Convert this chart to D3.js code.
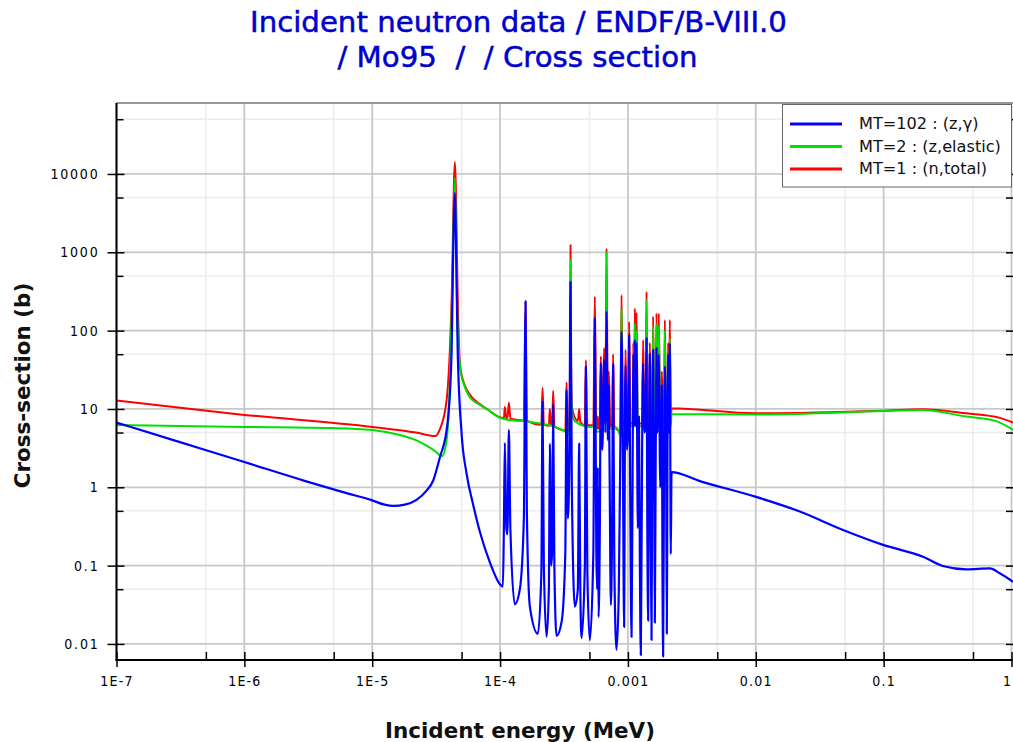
<!DOCTYPE html>
<html><head><meta charset="utf-8">
<script src="https://cdn.jsdelivr.net/npm/d3@7"></script>
<style>body{margin:0;background:#fff} svg{display:block}</style>
</head><body>
<svg id="c" width="1013" height="742"></svg>
<script>
// ---------------- data ----------------
const titleLines = ["Incident neutron data / ENDF/B-VIII.0", "/ Mo95  /  / Cross section"];
const xAxisLabel = "Incident energy (MeV)";
const yAxisLabel = "Cross-section (b)";
const xTickValues = [1e-7, 1e-6, 1e-5, 1e-4, 1e-3, 1e-2, 1e-1, 1];
const xTickLabels = ["1E-7", "1E-6", "1E-5", "1E-4", "0.001", "0.01", "0.1", "1"];
const xMinorTicks = [5e-7, 5e-6, 5e-5, 5e-4, 5e-3, 5e-2, 5e-1];
const yTickValues = [0.01, 0.1, 1, 10, 100, 1000, 10000];
const yTickLabels = ["0.01", "0.1", "1", "10", "100", "1000", "10000"];
const yMinorTicks = [0.05, 0.5, 5, 50, 500, 5000, 50000];
const seriesNames = ["MT=102 : (z,\u03b3)", "MT=2 : (z,elastic)", "MT=1 : (n,total)"];

// [energy (MeV), cross section (b)]
const captureXS = [
[1e-7,6.7],[3e-7,3.85],[1e-6,2.1],[3e-6,1.2],[6e-6,0.86],[1e-5,0.68],[1.25e-5,0.6],[1.46e-5,0.578],[1.8e-5,0.6],[2.22e-5,0.69],
[2.65e-5,0.9],[3.0e-5,1.22],[3.38e-5,2.4],
[3.82e-5,5.4],[3.93e-5,8],[4.18e-5,57],[4.30e-5,1070],[4.43e-5,5700],[4.57e-5,410],[4.66e-5,57],[5.0e-5,4.9],
[5.47e-5,1.5],[6.16e-5,0.6],[6.95e-5,0.27],[8.32e-5,0.11],[9.96e-5,0.058],
[1.052e-4,0.054],[1.071e-4,0.3],[1.09e-4,3.7],[1.12e-4,0.3],[1.141e-4,0.25],[1.172e-4,5.4],[1.204e-4,0.3],
[1.305e-4,0.032],[1.428e-4,0.05],[1.535e-4,0.4],[1.583e-4,234],[1.62e-4,0.5],[1.71e-4,0.03],[1.975e-4,0.0135],
[2.103e-4,0.08],[2.149e-4,12.4],[2.2e-4,0.1],[2.31e-4,0.0123],[2.408e-4,0.05],[2.451e-4,3.6],[2.509e-4,0.1],
[2.555e-4,0.15],[2.601e-4,11.3],[2.658e-4,0.1],[2.766e-4,0.0127],[3.041e-4,0.02],[3.239e-4,0.15],[3.31e-4,17.5],
[3.388e-4,0.4],[3.481e-4,2.0],[3.557e-4,421],[3.642e-4,1.0],[3.844e-4,0.03],[4.057e-4,0.05],[4.154e-4,3.6],
[4.243e-4,0.05],[4.336e-4,0.0119],[4.603e-4,0.1],[4.687e-4,34.7],[4.816e-4,0.08],[5.037e-4,0.0112],[5.364e-4,0.15],
[5.51e-4,144],[5.66e-4,0.15],[5.743e-4,0.05],[5.816e-4,1.8],[5.889e-4,0.022],[6.029e-4,0.3],[6.138e-4,38.5],
[6.22e-4,5],[6.305e-4,3],[6.513e-4,42],[6.655e-4,5],[6.801e-4,175],[6.961e-4,4],[7.089e-4,20],[7.282e-4,0.1],
[7.348e-4,0.0315],[7.522e-4,0.3],[7.659e-4,37],[7.827e-4,0.1],[8.143e-4,0.0084],[8.488e-4,0.05],[8.719e-4,3],
[8.913e-4,97],[9.123e-4,3],[9.34e-4,0.0165],[9.459e-4,3],[9.577e-4,36],[9.804e-4,3],[1.0037e-3,5],
[1.022e-3,88],[1.044e-3,0.5],[1.067e-3,0.0123],[1.09e-3,3],[1.102e-3,50],[1.118e-3,6],[1.132e-3,76],
[1.149e-3,6],[1.167e-3,70],[1.195e-3,0.3],[1.22e-3,8],[1.24e-3,0.1],[1.261e-3,0.0072],[1.291e-3,3],[1.315e-3,38],[1.343e-3,5],
[1.373e-3,6],[1.398e-3,80],[1.418e-3,0.3],[1.439e-3,0.0199],[1.462e-3,3],[1.483e-3,50],[1.51e-3,0.3],
[1.529e-3,0.0112],[1.551e-3,3],[1.574e-3,57],[1.59e-3,6],[1.608e-3,1],[1.623e-3,0.0187],[1.65e-3,3],[1.673e-3,60],
[1.69e-3,6],[1.707e-3,5],[1.744e-3,50],[1.77e-3,5],[1.786e-3,1],[1.82e-3,4],[1.841e-3,20],[1.862e-3,0.1],[1.885e-3,0.0069],[1.919e-3,3],
[1.943e-3,35],[1.989e-3,3],[2.014e-3,0.0135],[2.04e-3,3],[2.062e-3,50],[2.095e-3,5],[2.126e-3,69],
[2.164e-3,0.14],[2.192e-3,1.56],
[3.65e-3,1.2],[9.9e-3,0.76],[0.0221,0.49],[0.0482,0.285],[0.099,0.184],[0.203,0.13],[0.291,0.099],
[0.444,0.0897],[0.676,0.092],[0.81,0.08],[1.03,0.062]
];

const elasticXS = [
[1e-7,6.25],[1e-6,5.9],[5e-6,5.7],[1e-5,5.4],[1.65e-5,4.65],[2.2e-5,4.0],[2.66e-5,3.4],[3.1e-5,2.9],[3.52e-5,2.5],[3.82e-5,4.0],[4.05e-5,21.5],
[4.24e-5,410],[4.43e-5,8900],[4.63e-5,150],[4.86e-5,35],[5.3e-5,19],[5.83e-5,14],[6.8e-5,11.5],[7.87e-5,10],[1.0e-4,7.7],
[1.09e-4,7.4],[1.54e-4,7.0],[1.583e-4,12],[1.62e-4,7.0],[1.838e-4,6.7],[2.766e-4,5.8],[3.31e-4,5.0],
[3.481e-4,4.65],[3.535e-4,40],[3.557e-4,798],[3.58e-4,40],[3.642e-4,9.5],[3.844e-4,7],[5.037e-4,5.9],
[5.46e-4,6],[5.51e-4,128],[5.56e-4,6],[5.743e-4,5.1],[6.138e-4,5.3],[6.75e-4,10],[6.801e-4,1000],[6.86e-4,12],
[6.961e-4,6],[7.659e-4,5.5],[8.143e-4,5.8],[8.719e-4,4.7],[8.87e-4,15],[8.913e-4,183],[8.96e-4,15],[9.123e-4,6],
[1.118e-3,6],[1.132e-3,125],[1.149e-3,8],[1.167e-3,100],[1.195e-3,6],[1.373e-3,6],[1.398e-3,246],[1.418e-3,6],
[1.551e-3,6],[1.574e-3,112],[1.608e-3,6],[1.65e-3,6],[1.673e-3,120],[1.707e-3,8],[1.744e-3,115],[1.786e-3,6],
[1.919e-3,6],[1.943e-3,100],[1.989e-3,6],[2.095e-3,6],[2.126e-3,80],[2.164e-3,6],[2.192e-3,8.6],
[9.9e-3,8.5],[0.099,9.4],[0.203,9.7],[0.444,8.0],[0.76,7.0],[1.03,5.4]
];

const totalXS = [
[1e-7,12.8],[1e-6,8.4],[1e-5,5.9],[2.2e-5,5.0],[3.09e-5,4.5],[3.38e-5,5.5],[3.82e-5,13],[4.18e-5,246],[4.43e-5,14200],
[4.7e-5,150],[4.86e-5,36],[5.3e-5,20],[5.83e-5,15],[6.8e-5,11.8],[7.87e-5,10],[1.0e-4,7.8],
[1.071e-4,7.6],[1.09e-4,10.6],[1.12e-4,7.6],[1.141e-4,7.6],[1.172e-4,12],[1.204e-4,7.5],[1.535e-4,7.1],
[1.583e-4,245],[1.62e-4,7.1],[2.103e-4,6.3],[2.149e-4,18.5],[2.2e-4,6.3],[2.408e-4,6.1],[2.451e-4,10],
[2.509e-4,6.1],[2.555e-4,6.1],[2.601e-4,17],[2.658e-4,6.0],[3.239e-4,5.3],[3.31e-4,22],[3.388e-4,5.2],
[3.481e-4,6],[3.535e-4,60],[3.557e-4,1240],[3.58e-4,60],[3.642e-4,10.5],[4.057e-4,7],[4.154e-4,10],
[4.243e-4,6.8],[4.603e-4,6.2],[4.687e-4,42],[4.816e-4,6.2],[5.364e-4,6.2],[5.51e-4,272],[5.66e-4,6],
[5.743e-4,5.6],[5.816e-4,8],[5.889e-4,5.6],[6.029e-4,5.8],[6.138e-4,47],[6.305e-4,6],[6.513e-4,60],
[6.655e-4,7],[6.801e-4,1120],[6.961e-4,7],[7.089e-4,30],[7.282e-4,6],[7.522e-4,6],[7.659e-4,50],[7.827e-4,6],
[8.719e-4,5.2],[8.913e-4,285],[9.123e-4,6.5],[9.459e-4,6.5],[9.577e-4,57],[9.804e-4,6.5],[1.0037e-3,6.5],
[1.022e-3,130],[1.044e-3,6.5],[1.09e-3,6.5],[1.102e-3,70],[1.118e-3,7],[1.132e-3,193],[1.149e-3,8],
[1.167e-3,170],[1.195e-3,6.5],[1.291e-3,6.5],[1.315e-3,76],[1.343e-3,7],[1.373e-3,7],[1.398e-3,314],
[1.418e-3,7],[1.462e-3,7],[1.483e-3,70],[1.51e-3,7],[1.551e-3,7],[1.574e-3,151],[1.608e-3,7],[1.65e-3,7],
[1.673e-3,166],[1.707e-3,8],[1.744e-3,166],[1.786e-3,7],[1.82e-3,7],[1.841e-3,30],[1.885e-3,6.5],[1.919e-3,7],
[1.943e-3,137],[1.989e-3,7],[2.04e-3,7],[2.062e-3,70],[2.095e-3,7],[2.126e-3,137],[2.164e-3,7],[2.192e-3,10.2],
[9.9e-3,8.8],[0.099,9.5],[0.203,9.9],[0.444,8.8],[0.81,7.7],[1.03,6.7]
];

const seriesData = [captureXS, elasticXS, totalXS];
const seriesColors = ["#0000ff", "#00e000", "#ff0000"];

// ---------------- layout ----------------
const svg = d3.select("#c");
const M = {left: 116.5, right: 1011.5, top: 103, bottom: 660, edge: 1013};
const x = d3.scaleLog().domain([1e-7, 1]).range([M.left, M.right]);
const y = d3.scaleLog().domain([Math.pow(10, -2.205), Math.pow(10, 4.906)]).range([M.bottom, M.top]);

svg.append("rect").attr("width", 1013).attr("height", 742).attr("fill", "#fff");

// grid
const grid = svg.append("g");
grid.selectAll(".gxm").data(xMinorTicks).enter().append("line")
  .attr("x1", d => x(d)).attr("x2", d => x(d)).attr("y1", M.top).attr("y2", M.bottom)
  .attr("stroke", "#ececec").attr("stroke-width", 1.5);
grid.selectAll(".gym").data(yMinorTicks).enter().append("line")
  .attr("y1", d => y(d)).attr("y2", d => y(d)).attr("x1", M.left).attr("x2", M.edge)
  .attr("stroke", "#ececec").attr("stroke-width", 1.5);
grid.selectAll(".gx").data(xTickValues).enter().append("line")
  .attr("x1", d => x(d)).attr("x2", d => x(d)).attr("y1", M.top).attr("y2", M.bottom)
  .attr("stroke", "#c8c8c8").attr("stroke-width", 1.8);
grid.selectAll(".gy").data(yTickValues).enter().append("line")
  .attr("y1", d => y(d)).attr("y2", d => y(d)).attr("x1", M.left).attr("x2", M.edge)
  .attr("stroke", "#c8c8c8").attr("stroke-width", 1.8);

// top border
svg.append("line").attr("x1", M.left).attr("x2", M.edge).attr("y1", M.top).attr("y2", M.top)
  .attr("stroke", "#999").attr("stroke-width", 2);

// series
svg.append("clipPath").attr("id", "clip").append("rect")
  .attr("x", M.left).attr("y", M.top).attr("width", M.edge - M.left).attr("height", M.bottom - M.top);
const line = d3.line().x(d => x(d[0])).y(d => y(d[1])).curve(d3.curveMonotoneX);
const sg = svg.append("g").attr("clip-path", "url(#clip)");
[2, 1, 0].forEach(i => {
  sg.append("path").datum(seriesData[i]).attr("d", line)
    .attr("fill", "none").attr("stroke", seriesColors[i]).attr("stroke-width", i === 0 ? 2.2 : 2)
    .attr("stroke-linejoin", "round");
});

// axes
const tickFont = "'DejaVu Sans Condensed', 'DejaVu Sans', sans-serif";
const xAx = svg.append("g").attr("transform", `translate(0,${M.bottom})`)
  .call(d3.axisBottom(x).tickValues(xTickValues).tickFormat((d, i) => xTickLabels[i]).tickSizeOuter(0).tickSize(7).tickPadding(9));
xAx.selectAll(".tick line").attr("y1", -8).attr("y2", 7).attr("stroke", "#000").attr("stroke-width", 1.5);
xAx.select(".domain").remove();
xAx.selectAll("text").attr("font-family", tickFont).attr("font-size", 14).attr("letter-spacing", 1.2).attr("fill", "#000");
xAx.selectAll(".tick text").filter((d, i) => i === xTickValues.length - 1)
  .attr("text-anchor", "end").attr("letter-spacing", 0).attr("dx", -1);
const xAxMin = svg.append("g").attr("transform", `translate(0,${M.bottom})`)
  .call(d3.axisBottom(x).tickValues(xMinorTicks).tickFormat("").tickSizeOuter(0).tickSize(-8));
xAxMin.select(".domain").remove();
xAxMin.selectAll(".tick line").attr("stroke", "#000").attr("stroke-width", 1.5);

const yAx = svg.append("g").attr("transform", `translate(${M.left},0)`)
  .call(d3.axisLeft(y).tickValues(yTickValues).tickFormat((d, i) => yTickLabels[i]).tickSizeOuter(0).tickSize(9).tickPadding(8));
yAx.selectAll(".tick line").attr("x1", -9).attr("x2", 8).attr("stroke", "#000").attr("stroke-width", 1.5);
yAx.select(".domain").remove();
yAx.selectAll("text").attr("font-family", tickFont).attr("font-size", 14).attr("letter-spacing", 1.8).attr("fill", "#000");
const yAxMin = svg.append("g").attr("transform", `translate(${M.left},0)`)
  .call(d3.axisLeft(y).tickValues(yMinorTicks.filter(v => y(v) > M.top)).tickFormat("").tickSizeOuter(0).tickSize(-7));
yAxMin.select(".domain").remove();
yAxMin.selectAll(".tick line").attr("stroke", "#000").attr("stroke-width", 1.5);

// right-side ticks
const yAxR = svg.append("g").attr("transform", `translate(${M.edge},0)`)
  .call(d3.axisRight(y).tickValues(yTickValues.concat(yMinorTicks.filter(v => y(v) > M.top))).tickFormat("").tickSizeOuter(0).tickSize(-7));
yAxR.select(".domain").remove();
yAxR.selectAll(".tick line").attr("stroke", "#000").attr("stroke-width", 1.5);

// axis lines
svg.append("line").attr("x1", M.left).attr("x2", M.left).attr("y1", M.top).attr("y2", M.bottom + 1)
  .attr("stroke", "#000").attr("stroke-width", 2);
svg.append("line").attr("x1", M.left - 1).attr("x2", M.edge).attr("y1", M.bottom).attr("y2", M.bottom)
  .attr("stroke", "#000").attr("stroke-width", 2);

// fit helper
function fitWidth(sel, target) {
  const fs = parseFloat(sel.attr("font-size"));
  const w = sel.node().getComputedTextLength();
  if (w > 0) sel.attr("font-size", (fs * target / w).toFixed(2));
}

// title
const tFont = "'DejaVu Sans', sans-serif";
const t1 = svg.append("text").attr("x", 518.5).attr("y", 32).attr("text-anchor", "middle")
  .attr("font-family", tFont).attr("font-size", 24).attr("fill", "#0000cc").attr("font-weight", "normal")
  .attr("stroke", "#0000cc").attr("stroke-width", 0.5)
  .style("white-space", "pre").text(titleLines[0]);
fitWidth(t1, 537);
const t2 = svg.append("text").attr("x", 517.5).attr("y", 67).attr("text-anchor", "middle")
  .attr("font-family", tFont).attr("font-size", t1.attr("font-size")).attr("fill", "#0000cc")
  .attr("stroke", "#0000cc").attr("stroke-width", 0.5)
  .style("white-space", "pre").text(titleLines[1]);

// axis labels
const xl = svg.append("text").attr("x", 520).attr("y", 738).attr("text-anchor", "middle")
  .attr("font-family", tFont).attr("font-weight", "bold").attr("font-size", 20).attr("fill", "#111").text(xAxisLabel);
fitWidth(xl, 270);
const yl = svg.append("text").attr("transform", `translate(30,${(M.top + M.bottom) / 2 + 4}) rotate(-90)`)
  .attr("text-anchor", "middle").attr("font-family", tFont).attr("font-weight", "bold")
  .attr("font-size", xl.attr("font-size")).attr("fill", "#111").text(yAxisLabel);

// legend
const lg = svg.append("g");
lg.append("rect").attr("x", 782.5).attr("y", 104.5).attr("width", 229).attr("height", 82.5)
  .attr("fill", "#fff").attr("stroke", "#666").attr("stroke-width", 1);
const rowY = [124, 146.5, 169];
const legTexts = [];
seriesNames.forEach((n, i) => {
  lg.append("line").attr("x1", 790).attr("x2", 842).attr("y1", rowY[i]).attr("y2", rowY[i])
    .attr("stroke", seriesColors[i]).attr("stroke-width", 3);
  legTexts.push(lg.append("text").attr("x", 859).attr("y", rowY[i] + 5).attr("font-family", tFont)
    .attr("font-size", 14).attr("fill", "#111").text(n));
});
fitWidth(legTexts[1], 142);
legTexts.forEach(t => t.attr("font-size", legTexts[1].attr("font-size")));
</script>
</body></html>
